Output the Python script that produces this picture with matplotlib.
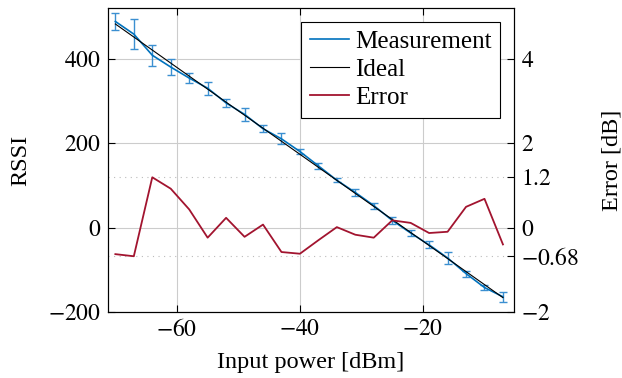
import matplotlib.pyplot as plt
from matplotlib.lines import Line2D

plt.rcParams['font.family'] = ['Liberation Serif', 'DejaVu Serif']
plt.rcParams['mathtext.fontset'] = 'stix'

power = [-70, -67, -64, -61, -58, -55, -52, -49, -46, -43, -40,
         -37, -34, -31, -28, -25, -22, -19, -16, -13, -10, -7]
rssi = [488, 458, 408, 380, 354, 330, 295, 268, 234, 210, 180,
        146, 112, 83, 52, 17, -13, -41, -72, -109, -142, -164]
rssi_err = [21, 36, 25, 18, 12, 15, 10, 16, 8, 13, 6,
            8, 5, 9, 7, 9, 7, 8, 14, 7, 7, 12]
ideal_x = [-70, -7]
ideal_y = [482, -166]
error_db = [-0.63, -0.68, 1.19, 0.92, 0.43, -0.24, 0.23, -0.22, 0.07, -0.58, -0.62,
            -0.30, 0.01, -0.17, -0.24, 0.17, 0.11, -0.13, -0.10, 0.49, 0.68, -0.40]

blue = '#0072BD'
red = '#A2142F'
fs = 17

fig = plt.figure(figsize=(6.22, 3.78), dpi=100)
ax = fig.add_axes([0.1736, 0.1746, 0.6528, 0.8044])
ax2 = ax.twinx()

ax.errorbar(power, rssi, yerr=rssi_err, color=blue, ecolor='#3b8fd1', lw=1.2,
            elinewidth=1.0, capsize=3, capthick=1.0, zorder=3)
ax.plot(ideal_x, ideal_y, color='black', lw=0.8, zorder=4)
ax2.plot(power, error_db, color=red, lw=1.3)

ax.set_xlim(-71.2, -5.2)
ax.set_ylim(-200, 520)
ax2.set_ylim(-2, 5.2)
ax.set_xticks([-60, -40, -20])
ax.set_yticks([-200, 0, 200, 400])
ax2.set_yticks([-2, -0.68, 0, 1.2, 2, 4])
ax2.set_yticklabels(['$-2$', '$-0.68$', '$0$', '$1.2$', '$2$', '$4$'])
ax.set_xticklabels(['$-60$', '$-40$', '$-20$'])
ax.set_yticklabels(['$-200$', '$0$', '$200$', '$400$'])

ax.grid(True, color='#cccccc', lw=0.8)
ax.set_axisbelow(True)
for v in [1.2, -0.68]:
    ax2.axhline(v, color='#bbbbbb', lw=0.8, ls=(0, (1, 4)), zorder=0)

ax.tick_params(direction='in', labelsize=fs, length=5, top=True, pad=5)
ax2.tick_params(direction='in', labelsize=fs, length=5, pad=5)

ax.set_xlabel('Input power [dBm]', fontsize=17.5, labelpad=8)
ax.set_ylabel('RSSI', fontsize=17.5, labelpad=12)
ax2.set_ylabel('Error [dB]', fontsize=17.5, labelpad=16)

handles = [Line2D([], [], color=blue, lw=1.2),
           Line2D([], [], color='black', lw=0.8),
           Line2D([], [], color=red, lw=1.3)]
leg = ax.legend(handles, ['Measurement', 'Ideal', 'Error'], loc='upper right',
                fontsize=18, frameon=True, fancybox=False, edgecolor='black',
                framealpha=1, borderaxespad=0.55, handlelength=1.55,
                handletextpad=0.25, labelspacing=0.22, borderpad=0.35)
leg.get_frame().set_linewidth(0.8)
leg.set_zorder(10)

fig.savefig('out.png', dpi=100)
